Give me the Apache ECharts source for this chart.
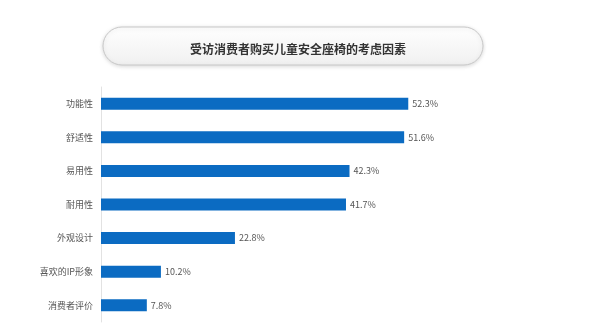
<!DOCTYPE html>
<html lang="zh">
<head>
	<meta charset="utf-8">
	<title>受访消费者购买儿童安全座椅的考虑因素</title>
	<script src="https://cdn.jsdelivr.net/npm/echarts@6/dist/echarts.min.js"></script>
	<style>
		html, body { margin: 0; padding: 0; background: #fff; }
		#chart { width: 600px; height: 330px; }
	</style>
</head>
<body>
<div id="chart"></div>
<script>
    var factors = ['功能性', '舒适性', '易用性', '耐用性', '外观设计', '喜欢的IP形象', '消费者评价'];
    var shares = [52.3, 51.6, 42.3, 41.7, 22.8, 10.2, 7.8];

    var chart = echarts.init(document.getElementById('chart'));
    var option = {
        animation: false,
        textStyle: { fontFamily: '"Noto Sans CJK SC", "Noto Sans", sans-serif' },
        graphic: [{
            type: 'rect',
            z: 0,
            shape: { x: 103, y: 27, width: 380, height: 38, r: 19 },
            style: {
                fill: new echarts.graphic.LinearGradient(0, 0, 0, 1, [
                    { offset: 0, color: '#ffffff' },
                    { offset: 1, color: '#f0f0f0' }
                ]),
                stroke: '#c8c8c8',
                lineWidth: 1,
                shadowBlur: 4,
                shadowColor: 'rgba(0,0,0,0.15)',
                shadowOffsetY: 1
            }
        }],
        title: {
            text: '受访消费者购买儿童安全座椅的考虑因素',
            left: 293,
            textAlign: 'center',
            top: 38,
            textStyle: { fontSize: 12, fontWeight: 'bold', color: '#333' },
            z: 10
        },
        grid: { left: 101, top: 87, width: 470, height: 235 },
        xAxis: {
            type: 'value',
            min: 0,
            max: 80,
            show: false
        },
        yAxis: {
            type: 'category',
            data: factors,
            inverse: true,
            axisLine: { lineStyle: { color: '#e2e2e2', width: 1 } },
            axisTick: { show: false },
            axisLabel: { color: '#555', fontSize: 9, margin: 8 }
        },
        series: [{
            type: 'bar',
            data: shares,
            barWidth: 12,
            itemStyle: { color: '#0b6bc2' },
            label: {
                show: true,
                position: 'right',
                distance: 4,
                color: '#555',
                fontSize: 9,
                formatter: function (p) { return p.value.toFixed(1) + '%'; }
            }
        }]
    };
    chart.setOption(option);
</script>
</body>
</html>
